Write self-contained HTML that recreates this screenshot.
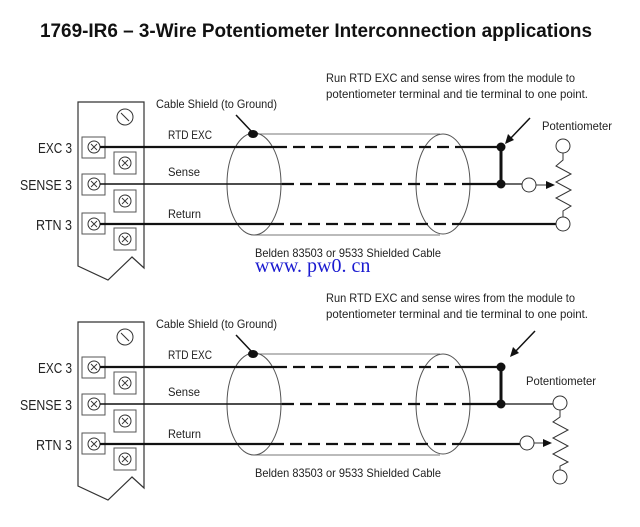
<!DOCTYPE html>
<html><head><meta charset="utf-8"><style>
html,body{margin:0;padding:0;background:#fff;}
svg{display:block}
text{font-family:"Liberation Sans",sans-serif;fill:#222}
</style></head><body>
<svg width="640" height="527" viewBox="0 0 640 527" xmlns="http://www.w3.org/2000/svg">
<defs>
<g id="mod">
  <path d="M78 102 H144 V268 L132 257 L108 280 L78 266 Z" fill="#fff" stroke="#333" stroke-width="1.2"/>
  <circle cx="125" cy="117" r="8" fill="none" stroke="#333"/>
  <line x1="121" y1="113" x2="129" y2="121" stroke="#333"/>
  <g fill="#fff" stroke="#555">
    <rect x="82" y="137" width="23" height="21"/>
    <rect x="82" y="174" width="23" height="21"/>
    <rect x="82" y="213" width="23" height="21"/>
    <rect x="114" y="152" width="22" height="22"/>
    <rect x="114" y="190" width="22" height="22"/>
    <rect x="114" y="228" width="22" height="22"/>
  </g>
  <g fill="none" stroke="#333">
    <circle cx="94" cy="147" r="6"/><circle cx="94" cy="184" r="6"/><circle cx="94" cy="224" r="6"/>
    <circle cx="125" cy="163" r="6"/><circle cx="125" cy="201" r="6"/><circle cx="125" cy="239" r="6"/>
  </g>
  <g stroke="#333" stroke-width="0.9">
    <path d="M91 144l6 6M97 144l-6 6M91 181l6 6M97 181l-6 6M91 221l6 6M97 221l-6 6"/>
    <path d="M122 160l6 6M128 160l-6 6M122 198l6 6M128 198l-6 6M122 236l6 6M128 236l-6 6"/>
  </g>
  <text x="38" y="153" font-size="15" textLength="34" lengthAdjust="spacingAndGlyphs">EXC 3</text>
  <text x="20" y="190" font-size="15" textLength="52" lengthAdjust="spacingAndGlyphs">SENSE 3</text>
  <text x="36" y="230" font-size="15" textLength="36" lengthAdjust="spacingAndGlyphs">RTN 3</text>
  <path d="M254 134 H440 M254 235 H440" stroke="#777" fill="none"/>
  <ellipse cx="254" cy="184" rx="27" ry="51" fill="none" stroke="#555"/>
  <ellipse cx="443" cy="184" rx="27" ry="50" fill="none" stroke="#555"/>
  <line x1="236" y1="115" x2="252" y2="132" stroke="#111" stroke-width="1.5"/>
  <ellipse cx="253" cy="134" rx="5" ry="4" fill="#111"/>
  <g stroke="#111" stroke-width="2.2">
    <line x1="100" y1="147" x2="275" y2="147"/>
    <line x1="100" y1="184" x2="282" y2="184" stroke-width="1.5"/>
    <line x1="100" y1="224" x2="272" y2="224"/>
    <g stroke-dasharray="12,6">
      <line x1="275" y1="147" x2="462" y2="147"/>
      <line x1="282" y1="184" x2="462" y2="184"/>
      <line x1="272" y1="224" x2="462" y2="224"/>
    </g>
  </g>
  <text x="168" y="139" font-size="12" textLength="44" lengthAdjust="spacingAndGlyphs">RTD EXC</text>
  <text x="168" y="176" font-size="12" textLength="32" lengthAdjust="spacingAndGlyphs">Sense</text>
  <text x="168" y="218" font-size="12" textLength="33" lengthAdjust="spacingAndGlyphs">Return</text>
  <text x="156" y="108" font-size="12" textLength="121" lengthAdjust="spacingAndGlyphs">Cable Shield (to Ground)</text>
  <text x="326" y="82" font-size="12" textLength="249" lengthAdjust="spacingAndGlyphs">Run RTD EXC and sense wires from the module to</text>
  <text x="326" y="98" font-size="12" textLength="262" lengthAdjust="spacingAndGlyphs">potentiometer terminal and tie terminal to one point.</text>
  <text x="255" y="257" font-size="12" textLength="186" lengthAdjust="spacingAndGlyphs">Belden 83503 or 9533 Shielded Cable</text>
</g>
</defs>

<text x="40" y="37" font-size="19.5" font-weight="bold" textLength="552" lengthAdjust="spacingAndGlyphs" style="fill:#111">1769-IR6 – 3-Wire Potentiometer Interconnection applications</text>

<use href="#mod"/>
<g stroke="#111" stroke-width="2.2" fill="none">
  <line x1="462" y1="147" x2="501" y2="147"/>
  <line x1="462" y1="184" x2="501" y2="184"/>
  <line x1="462" y1="224" x2="556" y2="224"/>
  <line x1="501" y1="147" x2="501" y2="184" stroke-width="3"/>
</g>
<line x1="501" y1="184" x2="522" y2="184" stroke="#111" stroke-width="1.3"/>
<circle cx="501" cy="147" r="4.5" fill="#111"/><circle cx="501" cy="184" r="4.5" fill="#111"/>
<line x1="530" y1="118" x2="509" y2="140" stroke="#111" stroke-width="1.5"/>
<path d="M505 144 L508 134 L514 140 Z" fill="#111"/>
<text x="542" y="130" font-size="12" textLength="70" lengthAdjust="spacingAndGlyphs">Potentiometer</text>
<g fill="#fff" stroke="#333">
  <circle cx="563" cy="146" r="7"/><circle cx="563" cy="224" r="7"/><circle cx="529" cy="185" r="7"/>
</g>
<path d="M563 153 V160 L556 166 L571 174 L556 182 L571 190 L556 198 L571 206 L563 211 V217" fill="none" stroke="#333"/>
<line x1="536" y1="185" x2="548" y2="185" stroke="#333"/>
<path d="M555 185 L546 181 L546 189 Z" fill="#111"/>

<text x="255" y="272" font-size="20" style="fill:#1a1ad0;font-family:'Liberation Serif',serif">www. pw0. cn</text>

<g transform="translate(0,220)">
  <use href="#mod"/>
</g>
<g stroke="#111" stroke-width="2.2" fill="none">
  <line x1="462" y1="367" x2="501" y2="367"/>
  <line x1="462" y1="404" x2="501" y2="404"/>
  <line x1="462" y1="444" x2="520" y2="444"/>
  <line x1="501" y1="367" x2="501" y2="404" stroke-width="3"/>
</g>
<line x1="501" y1="404" x2="553" y2="404" stroke="#111" stroke-width="1.3"/>
<circle cx="501" cy="367" r="4.5" fill="#111"/><circle cx="501" cy="404" r="4.5" fill="#111"/>
<line x1="535" y1="331" x2="514" y2="353" stroke="#111" stroke-width="1.5"/>
<path d="M510 357 L513 347 L519 353 Z" fill="#111"/>
<text x="526" y="385" font-size="12" textLength="70" lengthAdjust="spacingAndGlyphs">Potentiometer</text>
<g fill="#fff" stroke="#333">
  <circle cx="560" cy="403" r="7"/><circle cx="560" cy="477" r="7"/><circle cx="527" cy="443" r="7"/>
</g>
<path d="M560 410 V417 L553 422 L568 430 L553 438 L568 446 L553 454 L568 462 L560 466 V470" fill="none" stroke="#333"/>
<line x1="534" y1="443" x2="545" y2="443" stroke="#333"/>
<path d="M552 443 L543 439 L543 447 Z" fill="#111"/>
</svg>
</body></html>
